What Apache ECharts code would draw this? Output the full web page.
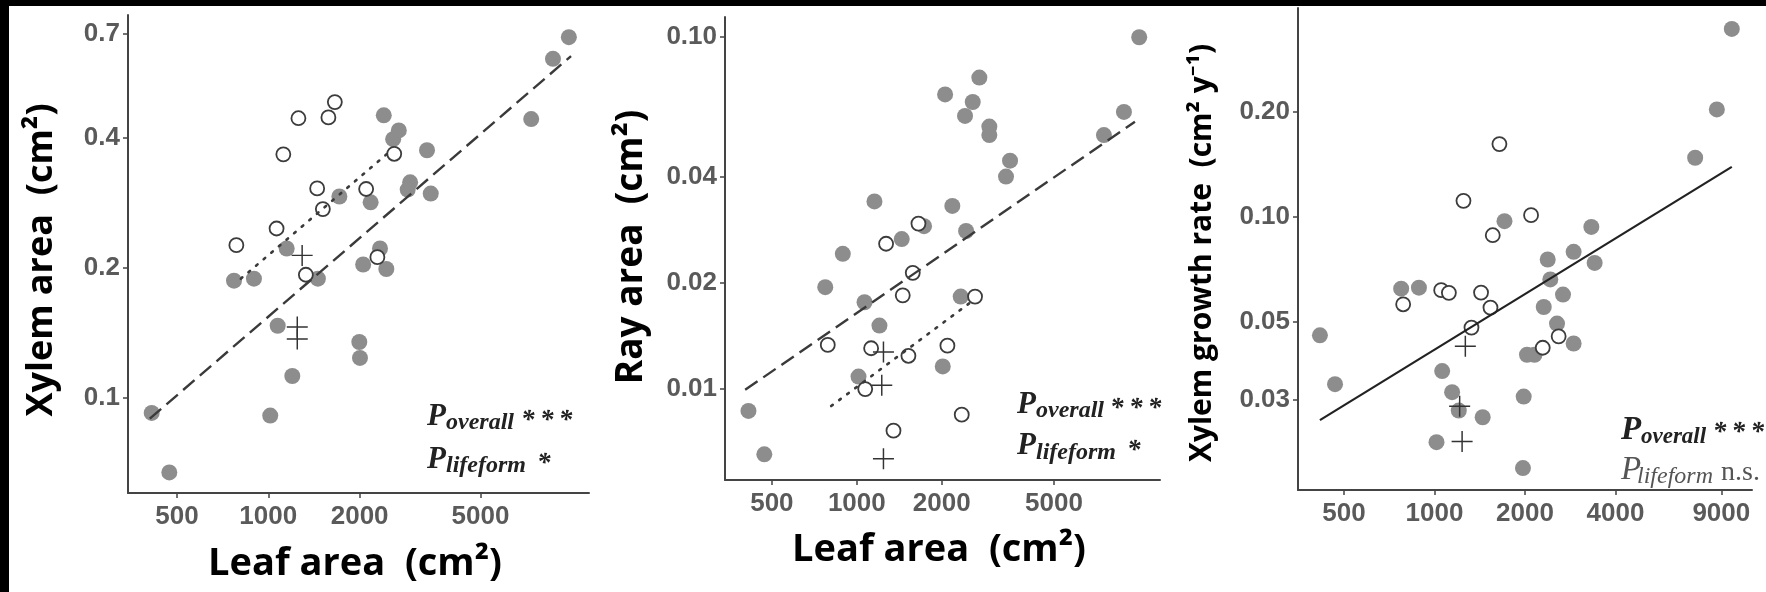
<!DOCTYPE html>
<html>
<head>
<meta charset="utf-8">
<script src="https://cdn.jsdelivr.net/npm/echarts@6/dist/echarts.min.js"></script>
<style>
html,body{margin:0;padding:0;background:#fff;}
#chart{width:1766px;height:592px;}
</style>
</head>
<body>
<div id="chart"></div>
<script>
// ---------------- DATA ----------------
// Panel 1: Leaf area (cm2) vs Xylem area (cm2)
const xylemFilled = [[413,0.0923],[472,0.0672],[771,0.187],[897,0.189],[1150,0.222],[1457,0.189],[1074,0.147],[1200,0.1124],[1015,0.091],[1715,0.293],[1995,0.1348],[2005,0.1238],[2054,0.2038],[2174,0.284],[2334,0.222],[2449,0.199],[2402,0.452],[2579,0.398],[2692,0.417],[2934,0.316],[2880,0.304],[3334,0.375],[3430,0.2976],[7350,0.443],[8670,0.611],[9780,0.686]];
const xylemOpen = [[785,0.226],[1065,0.247],[1121,0.367],[1257,0.445],[1330,0.193],[1449,0.306],[1513,0.274],[1578,0.447],[1657,0.485],[2101,0.305],[2288,0.212],[2600,0.368]];
const xylemPlus = [[1293,0.214],[1246,0.146],[1246,0.137]];
const xylemFitAll = [[407,0.0895],[9945,0.620]];
const xylemFitOpen = [[812,0.189],[2543,0.375]];

// Panel 2: Leaf area vs Ray area (cm2)
const rayFilled = [[413,0.00867],[470,0.00653],[773,0.01947],[892,0.0242],[1155,0.0341],[1065,0.01764],[1203,0.01514],[1014,0.01085],[1443,0.02665],[1731,0.029],[2181,0.0331],[2017,0.0116],[2335,0.0183],[2440,0.0281],[2056,0.0686],[2419,0.0596],[2576,0.0653],[2719,0.0766],[2950,0.0556],[2950,0.0526],[3493,0.0445],[3380,0.0401],[7516,0.0526],[8851,0.0612],[10026,0.0997]];
const rayOpen = [[789,0.01335],[1124,0.01306],[1071,0.0100],[1270,0.02585],[1349,0.00762],[1455,0.01845],[1524,0.01243],[1579,0.02138],[1654,0.0295],[2095,0.01328],[2355,0.00846],[2625,0.0183]];
const rayPlus = [[1243,0.01274],[1226,0.01025],[1243,0.00634]];
const rayFitAll = [[402,0.00995],[9683,0.0574]];
const rayFitOpen = [[811,0.00895],[2534,0.01764]];

// Panel 3: Leaf area vs Xylem growth rate (cm2 y-1)
const growthFilled = [[9752,0.345],[8697,0.203],[7366,0.1476],[1710,0.0972],[3326,0.0936],[2381,0.0755],[2904,0.0794],[3411,0.0738],[2429,0.0662],[2677,0.0599],[775,0.0623],[888,0.0627],[416,0.0458],[467,0.0332],[1061,0.0362],[1145,0.0315],[1205,0.0279],[1447,0.0267],[1016,0.02266],[1981,0.0306],[1970,0.0191],[2032,0.0403],[2151,0.0403],[2310,0.0552],[2557,0.0495],[2904,0.0434]];
const growthOpen = [[1645,0.1615],[1249,0.1111],[2096,0.1011],[1563,0.0886],[1053,0.0617],[1117,0.0606],[1429,0.0607],[787,0.0562],[1536,0.055],[1328,0.0482],[2292,0.0422],[2589,0.0455]];
const growthPlus = [[1267,0.0426],[1213,0.0287],[1236,0.02277]];
const growthFitAll = [[416,0.0262],[9752,0.139]];

// Tick values and labels
const leafTicks12 = [500,1000,2000,5000];
const leafLabels12 = ['500','1000','2000','5000'];
const leafTicks3 = [500,1000,2000,4000,9000];
const leafLabels3 = ['500','1000','2000','4000','9000'];
const xylemTicks = [0.1,0.2,0.4,0.7];
const xylemLabels = ['0.1','0.2','0.4','0.7'];
const rayTicks = [0.01,0.02,0.04,0.10];
const rayLabels = ['0.01','0.02','0.04','0.10'];
const growthTicks = [0.03,0.05,0.10,0.20];
const growthLabels = ['0.03','0.05','0.10','0.20'];

// ---------------- CHART ----------------
const L = Math.log10;
const toLog = arr => arr.map(p => [L(p[0]), L(p[1])]);
const AX = '#444';
const TICKFONT = {fontFamily:'"Liberation Sans", Arial, sans-serif', fontSize:26, fontWeight:'bold', color:'#5a5a5a'};

function labelFor(v, ticks, labels){
  let best = 0, d = Infinity;
  ticks.forEach((t,i)=>{ const dd = Math.abs(L(t)-v); if (dd < d){ d = dd; best = i; } });
  return labels[best];
}
function axis(kind, gi, min, max, ticks, labels){
  return {
    type:'value', gridIndex:gi, min:L(min), max:L(max),
    axisLine:{show:true, onZero:false, lineStyle:{color:AX, width:2}},
    axisTick:{show:true, length:5, inside:false, lineStyle:{color:AX, width:1.5}, customValues:ticks.map(L)},
    axisLabel:Object.assign({customValues:ticks.map(L), margin: kind==='x'?11:8,
      formatter:v=>labelFor(v,ticks,labels)}, TICKFONT),
    splitLine:{show:false}
  };
}
const plusPath = 'path://M9.3,0h1.4v9.3h9.3v1.4h-9.3v9.3h-1.4v-9.3h-9.3v-1.4h9.3z';
function panelSeries(gi, filled, open, plus, fits){
  const s = [];
  s.push({type:'scatter', xAxisIndex:gi, yAxisIndex:gi, data:toLog(filled), symbol:'circle', symbolSize:16,
    itemStyle:{color:'#8d8d8d', opacity:1}, z:2, silent:true});
  s.push({type:'scatter', xAxisIndex:gi, yAxisIndex:gi, data:toLog(open), symbol:'circle', symbolSize:14,
    itemStyle:{color:'#ffffff', borderColor:'#3c3c3c', borderWidth:1.8, opacity:1}, z:3, silent:true});
  fits.forEach(f=>{
    s.push({type:'line', xAxisIndex:gi, yAxisIndex:gi, data:toLog(f.data), symbol:'none', silent:true, z:4,
      lineStyle:{color:f.color||'#3a3a3a', width:f.width||2.4, type:f.dash||'solid', cap:f.cap||'butt'}});
  });
  s.push({type:'scatter', xAxisIndex:gi, yAxisIndex:gi, data:toLog(plus), symbol:plusPath, symbolSize:21,
    itemStyle:{color:'#333', opacity:1}, z:5, silent:true});
  return s;
}

const series = [].concat(
  panelSeries(0, xylemFilled, xylemOpen, xylemPlus, [
    {data:xylemFitAll, dash:[15,7]},
    {data:xylemFitOpen, dash:[2,8], cap:'round', width:2.6}
  ]),
  panelSeries(1, rayFilled, rayOpen, rayPlus, [
    {data:rayFitAll, dash:[15,7]},
    {data:rayFitOpen, dash:[2,8], cap:'round', width:2.6}
  ]),
  panelSeries(2, growthFilled, growthOpen, growthPlus, [
    {data:growthFitAll, color:'#222', width:2.2}
  ])
);

const TITLEFONT = '"Open Sans", "Noto Sans", sans-serif';
function title(text, x, y, size, rot){
  return {type:'text', x:x, y:y, rotation:rot?Math.PI/2:0, z:50,
    style:{text:text, fontFamily:TITLEFONT, fontWeight:'bold', fontSize:size, fill:'#000', align:'center', verticalAlign:'middle'}};
}
const SERIF = '"Liberation Serif", "DejaVu Serif", serif';
function t(text, x, y, size, opts){
  opts = opts || {};
  return {type:'text', x:x, y:y, z:50,
    style:{text:text, fontFamily:SERIF, fontStyle:opts.italic===false?'normal':'italic', fontWeight:opts.bold===false?'normal':'bold',
      fontSize:size, fill:opts.color||'#222', align:opts.align||'left', verticalAlign:'middle'}};
}
const STARS3 = '*\u2009*\u2009*';

const graphic = [
  // black frame strips
  {type:'rect', shape:{x:0,y:0,width:1766,height:6}, style:{fill:'#000'}, z:100},
  {type:'rect', shape:{x:0,y:0,width:9,height:592}, style:{fill:'#000'}, z:100},
  // axis titles
  title('Xylem area  (cm²)', 42, 260, 36, true),
  title('Leaf area  (cm²)', 355, 564, 38, false),
  title('Ray area  (cm²)', 631, 247, 37, true),
  title('Leaf area  (cm²)', 939, 550, 38, false),
  title('Xylem growth rate  (cm² y⁻¹)', 1202, 253, 30, true),
  // panel 1 annotation
  t('P', 427, 417, 31), t('overall', 446, 423, 24), t(STARS3, 521, 421, 27),
  t('P', 427, 460, 31), t('lifeform', 446, 466, 24), t('*', 537, 464, 27),
  // panel 2 annotation
  t('P', 1017, 405, 31), t('overall', 1036, 411, 24), t(STARS3, 1110, 409, 27),
  t('P', 1017, 446, 31), t('lifeform', 1036, 453, 24), t('*', 1127, 451, 27),
  // panel 3 annotation
  t('P', 1621, 430, 33), t('overall', 1641, 437, 23), t(STARS3, 1764, 433, 27, {align:'right'}),
  t('P', 1621, 470, 33, {bold:false, color:'#555'}), t('lifeform', 1637, 477, 24, {bold:false, color:'#555'}),
  t('n.s.', 1721, 473, 28, {italic:false, bold:false, color:'#555'})
];

const option = {
  animation:false,
  backgroundColor:'#ffffff',
  grid:[
    {left:128, top:15, width:461, height:478, containLabel:false},
    {left:725, top:17, width:435, height:463, containLabel:false},
    {left:1298, top:8, width:454, height:482, containLabel:false}
  ],
  xAxis:[
    axis('x',0,345,11395,leafTicks12,leafLabels12),
    axis('x',1,341,11880,leafTicks12,leafLabels12),
    axis('x',2,351.7,11384,leafTicks3,leafLabels3)
  ],
  yAxis:[
    axis('y',0,0.0602,0.772,xylemTicks,xylemLabels),
    axis('y',1,0.00552,0.1138,rayTicks,rayLabels),
    axis('y',2,0.01653,0.396,growthTicks,growthLabels)
  ],
  series:series,
  graphic:graphic
};
const chart = echarts.init(document.getElementById('chart'), null, {renderer:'canvas'});
chart.setOption(option);
</script>
</body>
</html>
